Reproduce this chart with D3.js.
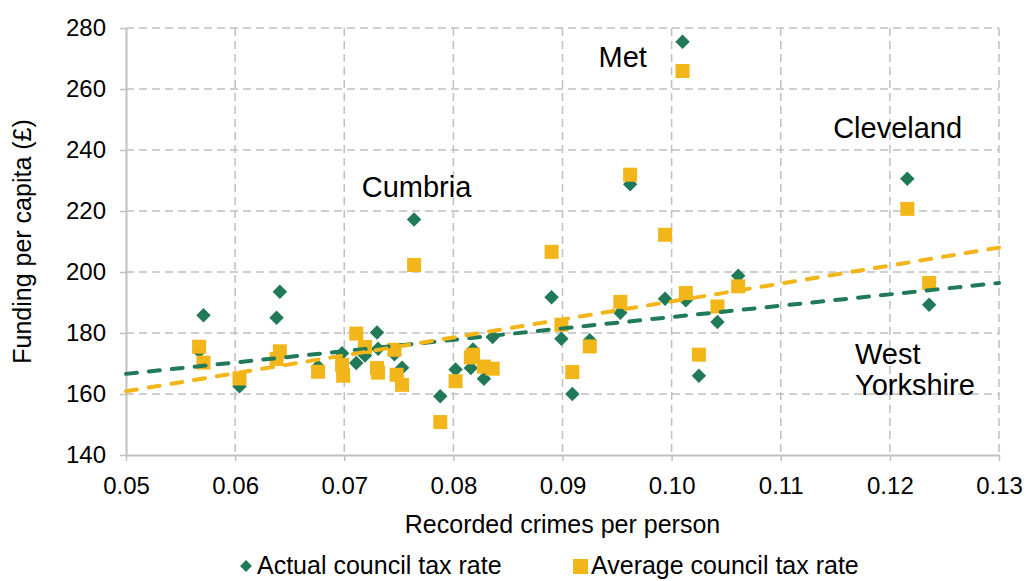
<!DOCTYPE html>
<html><head><meta charset="utf-8">
<script src="https://cdn.jsdelivr.net/npm/d3@7"></script>
<style>body{margin:0;background:#fff;} svg{display:block;font-family:"Liberation Sans",Arial,sans-serif;}</style>
</head><body>
<svg id="chart" width="1026" height="581"></svg>
<script>
// Recorded crimes per person (one per police force)
const crimes = [0.0567,0.0571,0.0604,0.0641,0.0638,0.0676,0.0698,0.0699,0.0711,0.0719,0.0730,0.0731,0.0746,0.0748,0.0753,0.0764,0.0788,0.0802,0.0816,0.0818,0.0828,0.0836,0.0890,0.0899,0.0909,0.0925,0.0953,0.0962,0.0994,0.1010,0.1013,0.1025,0.1042,0.1061,0.1216,0.1236];
// Funding per capita with actual council tax rate
const actual = [174,185.8,162.5,193.5,185,169,173.4,168,170.2,172.6,180.2,174.8,173,165.8,168.6,217.2,159.3,168,168.5,174.6,165,178.7,191.7,178.1,160,177.6,186.6,228.8,191.2,275.5,190.7,166,183.6,198.8,230.6,189.3];
// Funding per capita with average council tax rate
const average = [175.5,170.3,165.1,174,171.5,167.3,169.6,166,179.8,175.4,168.5,167,174.5,166.3,163,202.3,150.8,164.2,172,172.9,169,168.3,206.6,182.7,167.2,175.6,190.2,231.9,212.2,265.9,193.1,172.9,188.7,195.3,220.7,196.4];
// Linear trend lines (values at x = 0.05 and x = 0.13)
const trendX = [0.05, 0.13];
const trendActual = [166.6, 196.4];
const trendAverage = [160.9, 208.0];
const xTicks = [0.05,0.06,0.07,0.08,0.09,0.10,0.11,0.12,0.13];
const yTicks = [140,160,180,200,220,240,260,280];
const annotations = [
  {text:"Met", x:0.0933, y:267.2},
  {text:"Cumbria", x:0.0716, y:224.7},
  {text:"Cleveland", x:0.1148, y:244.0},
  {text:"West", x:0.1168, y:170.0},
  {text:"Yorkshire", x:0.1168, y:159.8}
];
const seriesNames = ["Actual council tax rate","Average council tax rate"];

const GREEN = "#217A57", YELLOW = "#F2B51A", GRID = "#C0C0C0";
const svg = d3.select("#chart");
const M = {left:126, right:999, top:28, bottom:455};
const x = d3.scaleLinear().domain([0.05,0.13]).range([M.left, M.right]);
const y = d3.scaleLinear().domain([140,280]).range([M.bottom, M.top]);

// gridlines
svg.append("g").selectAll("line").data(yTicks.filter(d=>d>140)).join("line")
  .attr("x1",M.left).attr("x2",M.right).attr("y1",d=>y(d)).attr("y2",d=>y(d))
  .attr("stroke",GRID).attr("stroke-width",1.5).attr("stroke-dasharray","8,5");
svg.append("g").selectAll("line").data(xTicks.filter(d=>d>0.05)).join("line")
  .attr("x1",d=>x(d)).attr("x2",d=>x(d)).attr("y1",M.top).attr("y2",M.bottom)
  .attr("stroke",GRID).attr("stroke-width",1.5).attr("stroke-dasharray","8,5");

// axes
const xAxis = svg.append("g").attr("transform",`translate(0,${M.bottom})`)
  .call(d3.axisBottom(x).tickValues(xTicks).tickFormat(d3.format(".2f")).tickSizeInner(6).tickSizeOuter(0).tickPadding(16));
const yAxis = svg.append("g").attr("transform",`translate(${M.left},0)`)
  .call(d3.axisLeft(y).tickValues(yTicks).tickFormat(d3.format("d")).tickSizeInner(6).tickSizeOuter(0).tickPadding(14));
[xAxis,yAxis].forEach(a=>{
  a.select(".domain").attr("stroke",GRID).attr("stroke-width",2);
  a.selectAll(".tick line").attr("stroke",GRID).attr("stroke-width",1.5);
  a.selectAll("text").attr("font-size",24).attr("fill","#000").attr("font-family","Liberation Sans, Arial, sans-serif");
});

// markers
const data = crimes.map((c,i)=>({c, a:actual[i], v:average[i]}));
const diamond = d3.symbol().type(d3.symbolSquare).size(105);
svg.append("g").selectAll("path").data(data).join("path")
  .attr("d",diamond())
  .attr("transform",d=>`translate(${x(d.c)},${y(d.a)}) rotate(45)`)
  .attr("fill",GREEN);
svg.append("g").selectAll("rect").data(data).join("rect")
  .attr("x",d=>x(d.c)-7).attr("y",d=>y(d.v)-7).attr("width",14).attr("height",14)
  .attr("fill",YELLOW);

// trend lines
const line = d3.line().x(d=>x(d[0])).y(d=>y(d[1]));
svg.append("path").attr("d",line(trendX.map((t,i)=>[t,trendActual[i]])))
  .attr("fill","none").attr("stroke",GREEN).attr("stroke-width",4)
  .attr("stroke-dasharray","11,12").attr("stroke-linecap","round");
svg.append("path").attr("d",line(trendX.map((t,i)=>[t,trendAverage[i]])))
  .attr("fill","none").attr("stroke",YELLOW).attr("stroke-width",4)
  .attr("stroke-dasharray","11,12").attr("stroke-linecap","round");

// annotations
svg.append("g").selectAll("text").data(annotations).join("text")
  .attr("x",d=>x(d.x)).attr("y",d=>y(d.y)).attr("text-anchor","start")
  .attr("font-size",29).attr("fill","#000").text(d=>d.text);

// axis titles
svg.append("text").attr("x",(M.left+M.right)/2).attr("y",533).attr("text-anchor","middle")
  .attr("font-size",25).text("Recorded crimes per person");
svg.append("text").attr("transform",`translate(31,${(M.top+M.bottom)/2}) rotate(-90)`)
  .attr("text-anchor","middle").attr("font-size",25).text("Funding per capita (£)");

// legend
const lg = svg.append("g");
lg.append("path").attr("d",d3.symbol().type(d3.symbolSquare).size(70)()).attr("transform","translate(246,566) rotate(45)").attr("fill",GREEN);
lg.append("text").attr("x",257).attr("y",574).attr("font-size",25).text(seriesNames[0]);
lg.append("rect").attr("x",573).attr("y",559).attr("width",15).attr("height",15).attr("fill",YELLOW);
lg.append("text").attr("x",591).attr("y",574).attr("font-size",25).text(seriesNames[1]);
</script>
</body></html>
